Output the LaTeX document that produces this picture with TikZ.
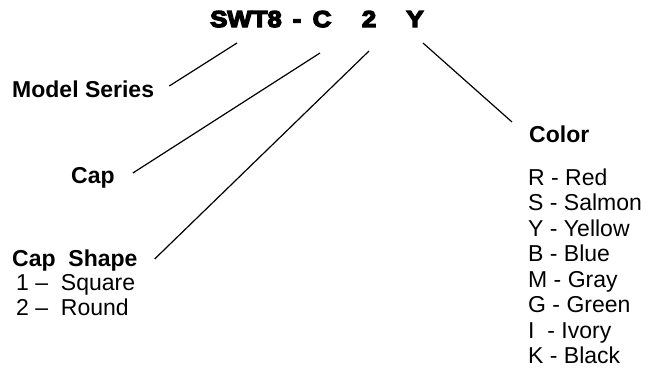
\documentclass[tikz,border=0pt]{standalone}
\usepackage{fontspec}
\setmainfont{Liberation Sans}
\newfontfamily\heavyfont[FakeBold=6,FakeStretch=1.12]{Liberation Sans Bold}
\usetikzlibrary{calc}

\begin{document}
\begin{tikzpicture}[x=1pt,y=-1pt,
    txt/.style={anchor=base west,inner sep=0pt,font=\fontsize{23}{25.5}\selectfont},
    head/.style={anchor=base west,inner sep=0pt,font=\fontsize{23}{26}\selectfont\bfseries},
    code/.style={anchor=base,inner sep=0pt,font=\fontsize{23}{26}\selectfont\heavyfont},
    lead/.style={line width=1.2pt}]
  \useasboundingbox (0,0) rectangle (648,381);
  % part number
  \node[code] (swt)   at (246,27) {SWT8};
  \node[code] (dash)  at (297,27) {-};
  \node[code] (capc)  at (322,27) {C};
  \node[code] (shape) at (369,27) {2};
  \node[code] (color) at (415,27) {Y};
  % fields
  \node[head] (series) at (12,97)  {Model Series};
  \node[head] (cap)    at (71,183) {Cap};
  \node[head] (capsh)  at (12,266) {Cap\ \ Shape};
  \node[txt]  (sq)     at (16,290) {1 –\ \ Square};
  \node[txt]  (rd)     at (16,315) {2 –\ \ Round};
  \node[head] (colhd)  at (529,142) {Color};
  \foreach \item [count=\i from 0] in {R - Red, S - Salmon, Y - Yellow, B - Blue,
      M - Gray, G - Green, I\ \ - Ivory, K - Black}
    \node[txt] (col\i) at (528,185+25.5*\i) {\item};
  % leaders
  \draw[lead] ($(series.base east)+(15,-11)$) -- ($(swt.base)+(-9,16)$);
  \draw[lead] ($(cap.base east)+(18,-10)$) -- ($(capc.base)+(-2,26)$);
  \draw[lead] ($(capsh.base east)+(17,-7)$) -- ($(shape.base)+(0,24)$);
  \draw[lead] ($(colhd.base west)+(-17,-20)$) -- ($(color.base)+(8,16)$);
\end{tikzpicture}
\end{document}
